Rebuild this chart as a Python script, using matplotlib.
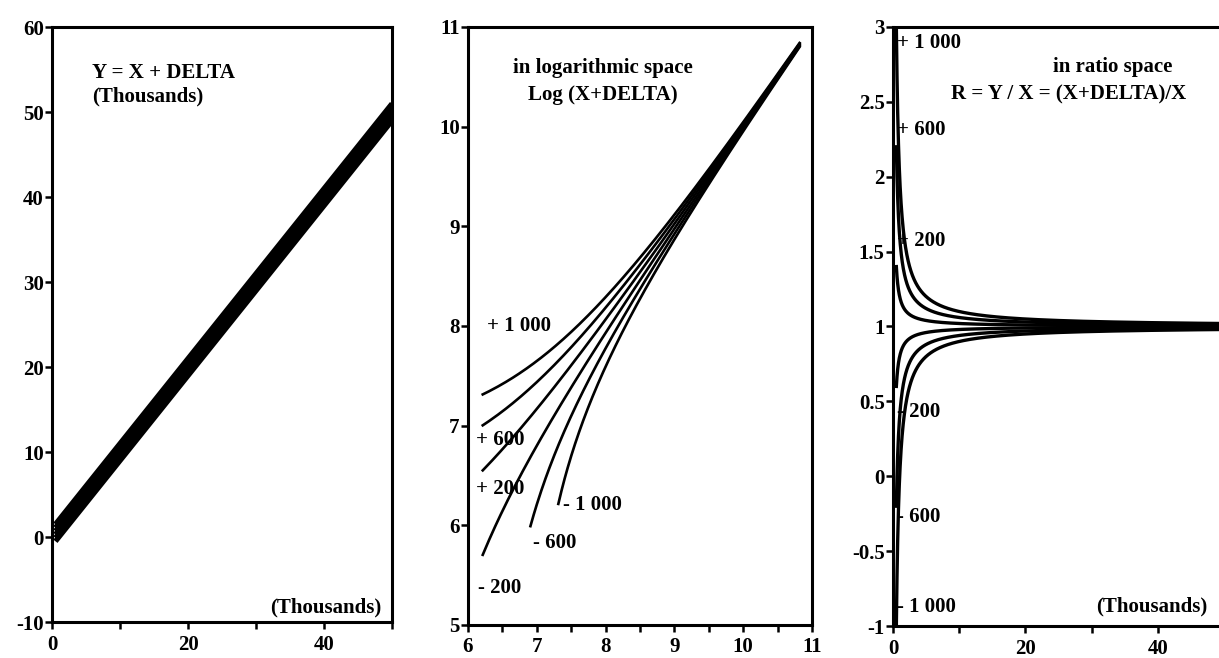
import numpy as np
import matplotlib
matplotlib.use("Agg")
import matplotlib.pyplot as plt
from matplotlib.ticker import MultipleLocator, FixedLocator, FuncFormatter

# --- data ---
DELTAS = [1000, 600, 200, -200, -600, -1000]
# first X (on the 500 grid of the source) where each curve starts in log space
LOG_START_X = [500, 500, 500, 500, 1000, 1500]
X_MIN, X_MAX = 500, 50000

LOG_LABELS = ["+ 1 000", "+ 600", "+ 200", "- 200", "- 600", "- 1 000"]
LOG_LABEL_X = [6.27, 6.12, 6.12, 6.14, 6.95, 7.38]
LOG_LABEL_Y = [8.00, 6.86, 6.36, 5.37, 5.82, 6.20]

RATIO_LABELS = ["+ 1 000", "+ 600", "+ 200", "- 200", "- 600", "- 1 000"]
RATIO_LABEL_Y = [2.89, 2.31, 1.57, 0.43, -0.27, -0.87]

plt.rcParams["font.family"] = ["Liberation Serif", "DejaVu Serif"]
plt.rcParams["font.weight"] = "bold"
plt.rcParams["axes.unicode_minus"] = False

fig = plt.figure(figsize=(12.19, 6.58), dpi=100)

TICK_FS = 15
TEXT_FS = 15


def style_axes(ax):
    for s in ax.spines.values():
        s.set_linewidth(2.2)
    ax.tick_params(direction="out", length=5, width=1.8, labelsize=TICK_FS)
    ax.tick_params(which="minor", direction="out", length=5, width=1.8)
    ax.tick_params(axis="y", pad=1)
    ax.tick_params(axis="x", pad=4)


def x_grid(start):
    return np.linspace(start, X_MAX, 2000)


# --- panel 1: Y = X + DELTA ---
ax1 = fig.add_axes([0.0427, 0.0547, 0.2789, 0.904])
for d in DELTAS:
    xs = x_grid(X_MIN)
    ax1.plot(xs / 1000, (xs + d) / 1000, color="black", lw=3.8, solid_capstyle="butt")
ax1.set_xlim(0, 50)
ax1.set_ylim(-10, 60)
ax1.yaxis.set_major_locator(MultipleLocator(10))
ax1.xaxis.set_major_locator(MultipleLocator(20))
ax1.xaxis.set_minor_locator(FixedLocator([10, 30, 50]))
style_axes(ax1)
ax1.text(5.9, 54.6, "Y = X + DELTA", fontsize=TEXT_FS, va="center")
ax1.text(5.9, 51.9, "(Thousands)", fontsize=TEXT_FS, va="center")
ax1.text(48.5, -8.3, "(Thousands)", fontsize=TEXT_FS, ha="right", va="center")

# --- panel 2: log space ---
ax2 = fig.add_axes([0.3839, 0.0502, 0.2822, 0.9088])
for d, start in zip(DELTAS, LOG_START_X):
    xs = x_grid(start)
    ax2.plot(np.log(xs), np.log(xs + d), color="black", lw=1.9)
ax2.set_xlim(6, 11)
ax2.set_ylim(5, 11)
ax2.xaxis.set_major_locator(MultipleLocator(1))
ax2.xaxis.set_minor_locator(MultipleLocator(0.5))
ax2.yaxis.set_major_locator(MultipleLocator(1))
style_axes(ax2)
ax2.text(7.96, 10.59, "in logarithmic space", fontsize=TEXT_FS, ha="center", va="center")
ax2.text(7.96, 10.32, "Log (X+DELTA)", fontsize=TEXT_FS, ha="center", va="center")
for lab, lx, ly in zip(LOG_LABELS, LOG_LABEL_X, LOG_LABEL_Y):
    ax2.text(lx, ly, lab, fontsize=TEXT_FS, va="center")

# --- panel 3: ratio space ---
ax3 = fig.add_axes([0.7326, 0.0486, 0.2715, 0.9104])
for d in DELTAS:
    xs = x_grid(X_MIN)
    ax3.plot(xs / 1000, (xs + d) / xs, color="black", lw=2.4)
ax3.set_xlim(0, 50)
ax3.set_ylim(-1, 3)
ax3.xaxis.set_major_locator(MultipleLocator(20))
ax3.xaxis.set_minor_locator(FixedLocator([10, 30, 50]))
ax3.yaxis.set_major_locator(MultipleLocator(0.5))
ax3.yaxis.set_major_formatter(FuncFormatter(lambda v, p: f"{v:g}"))
style_axes(ax3)
ax3.text(33.2, 2.73, "in ratio space", fontsize=TEXT_FS, ha="center", va="center")
ax3.text(26.5, 2.55, "R = Y / X = (X+DELTA)/X", fontsize=TEXT_FS, ha="center", va="center")
for lab, ly in zip(RATIO_LABELS, RATIO_LABEL_Y):
    ax3.text(0.6, ly, lab, fontsize=TEXT_FS, va="center")
ax3.text(47.5, -0.87, "(Thousands)", fontsize=TEXT_FS, ha="right", va="center")

fig.savefig("out.png", dpi=100)
